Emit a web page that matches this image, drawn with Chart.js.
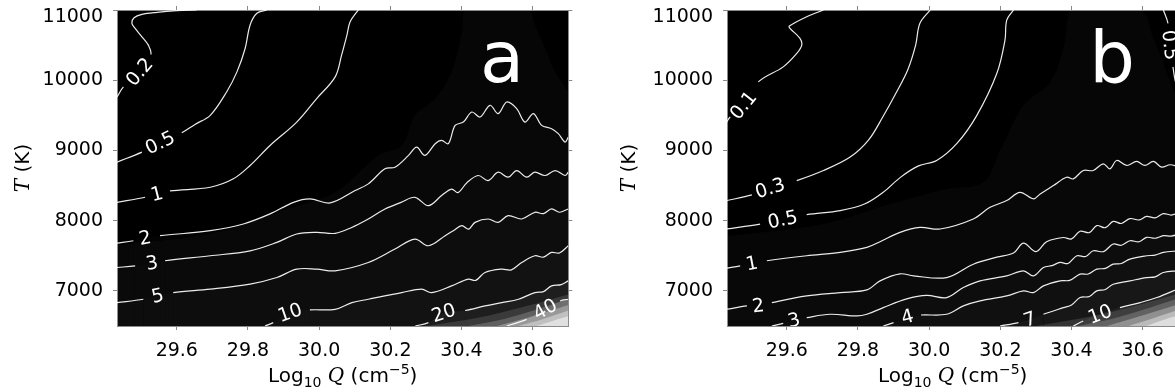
<!DOCTYPE html>
<html>
<head>
<meta charset="utf-8">
<script src="https://cdn.jsdelivr.net/npm/chart.js@4.4.1/dist/chart.umd.min.js"></script>
<style>
  html, body { margin: 0; padding: 0; background: #fff; overflow: hidden; }
  body { width: 1175px; height: 392px; position: relative; }
  canvas { position: absolute; top: 0; }
  #chartA { left: 0; }
  #chartB { left: 610px; }
</style>
</head>
<body>
<canvas id="chartA" width="590" height="392"></canvas>
<canvas id="chartB" width="590" height="392"></canvas>
<script>
// axis ranges and ticks (log10 Q, T in K)
const xMin = 29.432, xMax = 30.70;
const yMin = 6500, yMax = 11000;
const xTicks = [29.6, 29.8, 30.0, 30.2, 30.4, 30.6];
const yTicks = [7000, 8000, 9000, 10000, 11000];

// panel a contours, [log10 Q, T]; point 2 is where the label sits, 1 and 3 bound the gap
const a02 = [[29.432,9761],[29.450,9905],[29.495,10119],[29.527,10367],[29.520,10500],[29.502,10619],
  [29.483,10738],[29.474,10810],[29.480,10890],[29.502,10938],[29.544,10967],[29.600,10990],[29.656,11000]];
const a05 = [[29.432,8833],[29.502,8976],[29.553,9110],[29.614,9253],[29.651,9371],[29.694,9500],
  [29.740,9833],[29.769,10119],[29.792,10452],[29.806,10786],[29.825,10953],[29.853,11000]];
const a1 = [[29.432,8261],[29.511,8333],[29.544,8381],[29.581,8424],[29.694,8476],[29.759,8596],
  [29.806,8786],[29.862,9071],[29.937,9404],[29.993,9739],[30.045,10048],[30.063,10357],
  [30.078,10643],[30.087,10833],[30.110,11000]];
const a2 = [[29.432,7681],[29.478,7714],[29.511,7753],[29.553,7786],[29.694,7857],[29.787,7953],
  [29.862,8096],[29.928,8261],[29.974,8310],[30.031,8253],[30.101,8429],[30.138,8524],[30.185,8739],
  [30.213,8761],[30.251,8929],[30.274,9047],[30.297,8929],[30.326,9096],[30.344,9143],[30.363,9096],
  [30.382,9357],[30.405,9404],[30.429,9547],[30.452,9476],[30.480,9643],[30.503,9524],[30.527,9690],
  [30.555,9596],[30.578,9404],[30.602,9524],[30.625,9357],[30.653,9310],[30.672,9239],[30.691,9119],
  [30.700,9190]];
const a3 = [[29.432,7333],[29.483,7357],[29.530,7396],[29.567,7429],[29.694,7500],[29.806,7571],
  [29.881,7690],[29.937,7810],[29.993,7833],[30.045,7820],[30.090,7900],[30.138,8024],[30.185,8167],
  [30.230,8260],[30.269,8333],[30.307,8214],[30.344,8357],[30.372,8450],[30.390,8400],[30.415,8540],
  [30.447,8643],[30.475,8571],[30.503,8690],[30.531,8619],[30.555,8714],[30.583,8619],[30.606,8690],
  [30.635,8643],[30.663,8714],[30.691,8643],[30.700,8690]];
const a5 = [[29.432,6833],[29.506,6881],[29.546,6929],[29.590,6976],[29.694,7024],[29.806,7096],
  [29.881,7190],[29.937,7310],[29.993,7310],[30.045,7286],[30.138,7404],[30.213,7596],[30.269,7738],
  [30.307,7643],[30.354,7786],[30.378,7860],[30.401,7929],[30.420,7880],[30.438,7976],[30.475,8024],
  [30.503,7976],[30.531,8071],[30.569,8024],[30.606,8119],[30.630,8100],[30.653,8167],[30.675,8120],
  [30.700,8167]];
const a10 = [[29.848,6500],[29.871,6548],[29.918,6690],[29.974,6729],[30.045,6738],[30.092,6833],
  [30.138,6881],[30.232,6976],[30.288,7024],[30.316,6976],[30.372,7071],[30.419,7167],[30.440,7150],
  [30.466,7262],[30.513,7310],[30.540,7300],[30.569,7404],[30.606,7500],[30.630,7480],[30.653,7548],
  [30.675,7540],[30.700,7643]];
const a20 = [[30.270,6500],[30.307,6548],[30.350,6686],[30.410,6721],[30.466,6786],[30.513,6833],
  [30.560,6881],[30.606,6976],[30.630,6990],[30.653,7071],[30.680,7090],[30.700,7143]];
const a40 = [[30.527,6500],[30.583,6595],[30.635,6738],[30.677,6857],[30.700,6881]];
const levelsA = ['0.2', '0.5', '1', '2', '3', '5', '10', '20', '40'];

// panel a grey shading boundaries
const shadeA = [[29.432,7650],[29.700,7820],[29.900,8150],[30.045,8405],[30.166,8929],[30.232,9071],
  [30.269,9500],[30.316,9690],[30.354,9929],[30.382,10262],[30.401,10690],[30.415,11000],[30.588,11000],
  [30.606,10786],[30.635,10452],[30.663,10119],[30.700,9833]];
const glowA1 = [[30.30,6500],[30.45,6620],[30.58,6780],[30.70,6950]];
const glowA2 = [[30.42,6500],[30.52,6600],[30.62,6750],[30.70,6880]];
const glowA3 = [[30.50,6500],[30.58,6610],[30.70,6800]];
const glowA4 = [[30.56,6500],[30.63,6600],[30.70,6720]];
const glowA5 = [[30.61,6500],[30.66,6580],[30.70,6640]];

// panel b contours
const b01 = [[29.431,9404],[29.441,9476],[29.478,9643],[29.520,9976],[29.590,10190],[29.628,10381],
  [29.642,10500],[29.637,10596],[29.609,10738],[29.607,10771],[29.656,10905],[29.703,11000]];
const b03 = [[29.431,8286],[29.502,8367],[29.553,8461],[29.628,8571],[29.703,8714],[29.778,8905],
  [29.830,9150],[29.870,9480],[29.905,9800],[29.940,10150],[29.962,10500],[29.974,10810],[30.003,11000]];
const b05 = [[29.431,7881],[29.525,7952],[29.588,8014],[29.656,8086],[29.750,8143],[29.820,8240],
  [29.870,8400],[29.920,8620],[29.970,8780],[30.021,8857],[30.078,9100],[30.134,9500],[30.190,10095],
  [30.213,10571],[30.218,10857],[30.237,11000]];
const b1 = [[29.431,7324],[29.469,7357],[29.502,7390],[29.544,7429],[29.656,7500],[29.750,7548],
  [29.825,7619],[29.862,7700],[29.918,7833],[29.974,7904],[30.031,7881],[30.124,8024],[30.171,8190],
  [30.218,8286],[30.255,8404],[30.293,8310],[30.312,8381],[30.349,8500],[30.386,8619],[30.405,8595],
  [30.433,8714],[30.461,8714],[30.489,8810],[30.508,8738],[30.527,8857],[30.555,8786],[30.583,8843],
  [30.606,8786],[30.630,8843],[30.653,8762],[30.677,8796],[30.700,8770]];
const b2 = [[29.431,6738],[29.488,6786],[29.520,6786],[29.558,6833],[29.656,6929],[29.750,6976],
  [29.825,7014],[29.862,7143],[29.918,7243],[29.956,7214],[30.049,7190],[30.124,7380],[30.190,7480],
  [30.237,7540],[30.265,7680],[30.300,7560],[30.330,7700],[30.377,7760],[30.400,7740],[30.424,7850],
  [30.450,7830],[30.471,7930],[30.495,7900],[30.517,7990],[30.540,7960],[30.564,8030],[30.590,8010],
  [30.611,8060],[30.635,8040],[30.658,8100],[30.680,8080],[30.700,8110]];
const b3 = [[29.558,6500],[29.590,6538],[29.620,6581],[29.656,6619],[29.722,6667],[29.797,6643],
  [29.825,6667],[29.871,6762],[29.937,6886],[29.993,6936],[30.049,6905],[30.096,7048],[30.143,7143],
  [30.218,7214],[30.265,7286],[30.293,7214],[30.321,7333],[30.345,7360],[30.368,7405],[30.390,7390],
  [30.415,7500],[30.440,7490],[30.461,7571],[30.490,7560],[30.517,7667],[30.540,7650],[30.564,7714],
  [30.590,7700],[30.611,7762],[30.635,7750],[30.658,7786],[30.680,7780],[30.700,7810]];
const b4 = [[29.871,6500],[29.900,6548],[29.939,6629],[29.977,6657],[30.049,6667],[30.096,6786],
  [30.143,6857],[30.218,6929],[30.265,7000],[30.293,6976],[30.321,7071],[30.368,7143],[30.395,7150],
  [30.424,7238],[30.447,7240],[30.471,7310],[30.495,7320],[30.517,7381],[30.540,7390],[30.564,7452],
  [30.611,7500],[30.635,7510],[30.658,7548],[30.700,7571]];
const b7 = [[30.199,6500],[30.251,6548],[30.283,6595],[30.321,6667],[30.377,6762],[30.400,6800],
  [30.424,6905],[30.450,6920],[30.471,7000],[30.495,7020],[30.517,7095],[30.564,7143],[30.611,7190],
  [30.635,7200],[30.658,7262],[30.700,7286]];
const b10 = [[30.405,6500],[30.433,6571],[30.480,6667],[30.536,6762],[30.593,6833],[30.640,6905],
  [30.700,7030]];
const b05top = [[30.658,11000],[30.671,10810],[30.676,10500],[30.685,10190],[30.691,10000],[30.700,9860]];
const levelsB = ['0.1', '0.3', '0.5', '1', '2', '3', '4', '7', '10', '0.5'];

const shadeB = [[29.431,7780],[29.700,7950],[29.900,8250],[30.050,8450],[30.152,8548],[30.200,9000],
  [30.265,9643],[30.340,9976],[30.377,10452],[30.391,10929],[30.400,11000],[30.593,11000],
  [30.630,10596],[30.667,10119],[30.700,9690]];
const glowB1 = [[30.30,6500],[30.45,6630],[30.58,6790],[30.70,6960]];
const glowB2 = [[30.42,6500],[30.52,6610],[30.62,6760],[30.70,6890]];
const glowB3 = [[30.50,6500],[30.58,6620],[30.70,6810]];
const glowB4 = [[30.56,6500],[30.63,6610],[30.70,6730]];
const glowB5 = [[30.61,6500],[30.66,6590],[30.70,6650]];

const LINE = 'rgba(255,255,255,0.92)';
const AXIS = '#8a8a8a';
const FONT = '"DejaVu Sans", sans-serif';

function toXY(pts) { return pts.map(p => ({ x: p[0], y: p[1] })); }

function contour(pts, text, shade) {
  return {
    data: toXY(pts),
    showLine: true,
    borderColor: LINE,
    borderWidth: 1.2,
    pointRadius: 0,
    tension: 0.35,
    fill: shade ? 'start' : false,
    backgroundColor: shade ? 'rgba(255,255,255,' + shade + ')' : 'rgba(0,0,0,0)',
    labelText: text,
    segment: {
      borderColor: ctx => (ctx.p0DataIndex >= 1 && ctx.p1DataIndex <= 3) ? 'rgba(0,0,0,0)' : LINE
    }
  };
}

function shade(pts, alpha) {
  return {
    data: toXY(pts),
    showLine: true,
    borderWidth: 0,
    borderColor: 'rgba(0,0,0,0)',
    pointRadius: 0,
    tension: 0.35,
    fill: 'start',
    backgroundColor: 'rgba(255,255,255,' + alpha + ')'
  };
}

const darkArea = {
  id: 'darkArea',
  beforeDraw(chart) {
    const { ctx, chartArea: ca } = chart;
    ctx.save();
    ctx.fillStyle = '#fff';
    ctx.fillRect(0, 0, chart.width, chart.height);
    ctx.fillStyle = '#000';
    ctx.fillRect(ca.left, ca.top, ca.right - ca.left, ca.bottom - ca.top);
    ctx.restore();
  }
};

const contourLabels = {
  id: 'contourLabels',
  afterDatasetsDraw(chart, args, opts) {
    const { ctx, chartArea: ca, scales: { x, y } } = chart;
    ctx.save();
    ctx.beginPath();
    ctx.rect(ca.left, ca.top, ca.right - ca.left, ca.bottom - ca.top);
    ctx.clip();
    ctx.fillStyle = '#fff';
    ctx.textAlign = 'center';
    ctx.textBaseline = 'middle';
    ctx.font = '19px ' + FONT;
    chart.data.datasets.forEach(ds => {
      if (!ds.labelText) return;
      const d = ds.data;
      const px = i => [x.getPixelForValue(d[i].x), y.getPixelForValue(d[i].y)];
      const [x0, y0] = px(1), [xc, yc] = px(2), [x1, y1] = px(3);
      let ang = Math.atan2(y1 - y0, x1 - x0);
      if (ang > Math.PI / 2) ang -= Math.PI;
      if (ang < -Math.PI / 2) ang += Math.PI;
      ctx.save();
      ctx.translate(xc, yc);
      ctx.rotate(ang);
      ctx.fillText(ds.labelText, 0, 1);
      ctx.restore();
    });
    // panel letter
    ctx.font = '72px ' + FONT;
    ctx.textBaseline = 'alphabetic';
    ctx.fillText(opts.letter, ca.left + 385, ca.top + 72);
    ctx.restore();
  }
};

function drawRuns(ctx, runs, cx, cy) {
  let w = 0;
  runs.forEach(r => { ctx.font = r.f; r.w = ctx.measureText(r.t).width; w += r.w; });
  let xx = cx - w / 2;
  runs.forEach(r => {
    ctx.font = r.f;
    ctx.fillText(r.t, xx, cy + (r.dy || 0));
    xx += r.w;
  });
}

const axisTitles = {
  id: 'axisTitles',
  afterDraw(chart, args, opts) {
    const { ctx, chartArea: ca } = chart;
    const base = '20px ' + FONT, small = '14px ' + FONT, ital = 'italic 20px "DejaVu Serif", serif';
    ctx.save();
    ctx.fillStyle = '#000';
    ctx.textAlign = 'left';
    ctx.textBaseline = 'alphabetic';
    drawRuns(ctx, [
      { t: 'Log', f: base }, { t: '10', f: small, dy: 5 }, { t: ' ', f: base },
      { t: 'Q', f: ital }, { t: ' (cm', f: base }, { t: '\u22125', f: small, dy: -8 }, { t: ')', f: base }
    ], (ca.left + ca.right) / 2, 382);
    ctx.translate(ca.left - opts.yTitleGap, (ca.top + ca.bottom) / 2);
    ctx.rotate(-Math.PI / 2);
    drawRuns(ctx, [{ t: 'T', f: ital }, { t: ' (K)', f: base }], 0, 0);
    ctx.restore();
  }
};

function axis(pos, showLabels) {
  const horiz = pos === 'top' || pos === 'bottom';
  const vals = horiz ? xTicks : yTicks;
  const s = {
    type: 'linear',
    position: pos,
    min: horiz ? xMin : yMin,
    max: horiz ? xMax : yMax,
    grid: { drawOnChartArea: false, drawTicks: true, tickLength: 4, color: AXIS },
    border: { display: true, color: AXIS, width: 1 },
    ticks: { display: showLabels, color: '#000', autoSkip: false, maxRotation: 0 },
    afterBuildTicks: sc => { sc.ticks = vals.map(v => ({ value: v })); },
    afterFit: sc => {
      sc.paddingLeft = sc.paddingRight = sc.paddingTop = sc.paddingBottom = 0;
      if (pos === 'bottom') sc.height = 66;
      if (pos === 'top') sc.height = 4;
      if (pos === 'left') sc.width = 117;
      if (pos === 'right') sc.width = 4;
    }
  };
  if (pos === 'bottom') {
    s.ticks.font = { family: FONT, size: 19 };
    s.ticks.padding = 10;
    s.ticks.callback = v => v.toFixed(1);
  }
  if (pos === 'left') {
    s.ticks.font = { family: FONT, size: 19, lineHeight: 0.76 };
    s.ticks.padding = 10;
    s.ticks.callback = (v, i, t) => i === t.length - 1 ? ['', String(v)] : String(v);
  }
  return s;
}

function makeChart(id, datasets, letter, yTitleGap) {
  return new Chart(document.getElementById(id), {
    type: 'scatter',
    data: { datasets },
    options: {
      responsive: false,
      animation: false,
      devicePixelRatio: 1,
      events: [],
      layout: { padding: { left: 0, top: 6, right: 17.7, bottom: 0 } },
      scales: {
        x: axis('bottom', true),
        x2: axis('top', false),
        y: axis('left', true),
        y2: axis('right', false)
      },
      plugins: {
        legend: { display: false },
        tooltip: { enabled: false },
        filler: { drawTime: 'beforeDatasetsDraw' },
        contourLabels: { letter },
        axisTitles: { yTitleGap }
      }
    },
    plugins: [darkArea, contourLabels, axisTitles]
  });
}

const fillA = [0, 0, 0, 0.012, 0.012, 0.015, 0.025, 0.05, 0.1];
const linesA = [a02, a05, a1, a2, a3, a5, a10, a20, a40];
const setsA = [shade(shadeA, 0.022)]
  .concat(linesA.map((p, i) => contour(p, levelsA[i], fillA[i])))
  .concat([shade(glowA1, 0.12), shade(glowA2, 0.2), shade(glowA3, 0.3), shade(glowA4, 0.4), shade(glowA5, 0.55)]);

const fillB = [0, 0, 0, 0.012, 0.012, 0.015, 0.015, 0.03, 0.05, 0];
const linesB = [b01, b03, b05, b1, b2, b3, b4, b7, b10, b05top];
const setsB = [shade(shadeB, 0.022)]
  .concat(linesB.map((p, i) => contour(p, levelsB[i], fillB[i])))
  .concat([shade(glowB1, 0.12), shade(glowB2, 0.2), shade(glowB3, 0.3), shade(glowB4, 0.4), shade(glowB5, 0.55)]);

makeChart('chartA', setsA, 'a', 88);
makeChart('chartB', setsB, 'b', 92);
</script>
</body>
</html>
